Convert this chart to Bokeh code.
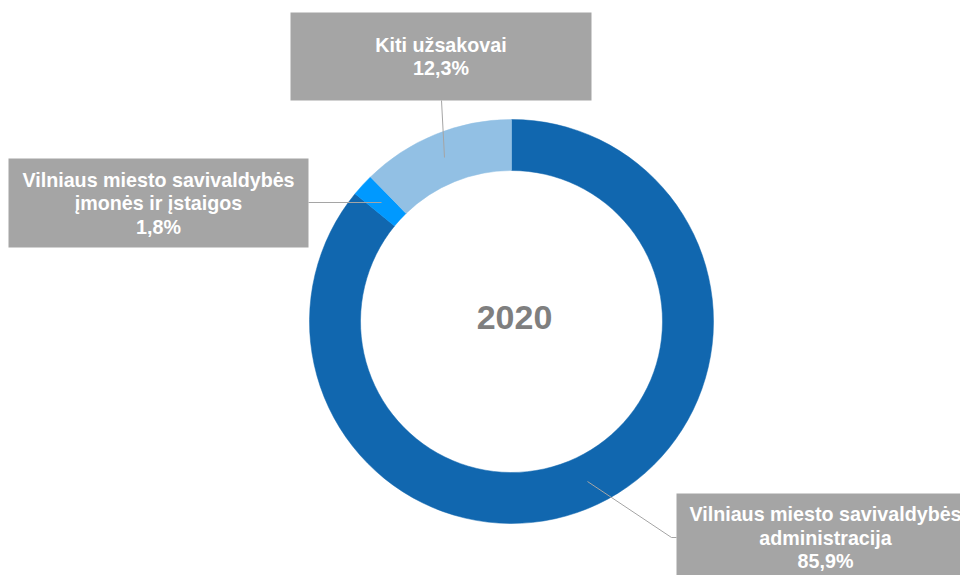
import math
from bokeh.plotting import figure
from bokeh.models import Range1d, ColumnDataSource
from bokeh.core.properties import value
from bokeh.embed import file_html
from bokeh.resources import INLINE

# ---- data ----
categories = ["Vilniaus miesto savivaldybės\nadministracija",
              "Vilniaus miesto savivaldybės\nįmonės ir įstaigos",
              "Kiti užsakovai"]
shares = [85.9, 1.8, 12.3]
colors = ["#1167AF", "#0099FF", "#92C0E4"]
center_label = "2020"

# ---- layout (page pixel coordinates; data y = -page y) ----
W, H = 960, 575
CX, CY = 511, 321
R_OUT, R_IN = 202, 151
# label boxes: left, right, top, bottom (page px), leader line points
boxes = [
    dict(l=676, r=974, t=493, b=581, leader=[(587, 481), (671, 537), (676, 537)]),
    dict(l=8, r=308, t=158, b=247, leader=[(381, 202), (308, 202)]),
    dict(l=290, r=591, t=12, b=100, leader=[(444, 157), (441, 100)]),
]
LINE_H = 23.5
FONT = value("Liberation Sans")

p = figure(width=W, height=H, output_backend="svg", toolbar_location=None,
           x_range=Range1d(0, W), y_range=Range1d(-H, 0),
           min_border=0, outline_line_color=None)
p.axis.visible = False
p.grid.visible = False
p.background_fill_color = "white"
p.border_fill_color = "white"

# donut
total = sum(shares)
starts, ends = [], []
cum = 0.0
for s in shares:
    starts.append(math.pi / 2 - cum / total * 2 * math.pi)
    cum += s
    ends.append(math.pi / 2 - cum / total * 2 * math.pi)
src = ColumnDataSource(dict(start=starts, end=ends, color=colors,
                            x=[CX] * len(shares), y=[-CY] * len(shares)))
p.annular_wedge(x="x", y="y", inner_radius=R_IN, outer_radius=R_OUT,
                inner_radius_units="screen", outer_radius_units="screen",
                start_angle="start", end_angle="end", direction="clock",
                fill_color="color", line_color="color", line_width=0.5, source=src)

# center label
p.text(x=[514], y=[-317], text=[center_label], text_font=FONT,
       text_font_style="bold", text_font_size="34px", text_color="#7F7F7F",
       text_align="center", text_baseline="middle")

# label boxes, leader lines, texts
for cat, sh, bx in zip(categories, shares, boxes):
    xs = [pt[0] for pt in bx["leader"]]
    ys = [-pt[1] for pt in bx["leader"]]
    p.line(xs, ys, line_color="#A5A5A5", line_width=1)
    p.quad(left=[bx["l"]], right=[bx["r"]], top=[-bx["t"]], bottom=[-bx["b"]],
           fill_color="#A5A5A5", line_color=None)
    lines = cat.split("\n") + [f"{sh:.1f}".replace(".", ",") + "%"]
    n = len(lines)
    cx = (bx["l"] + bx["r"]) / 2
    cy = (bx["t"] + bx["b"]) / 2
    mids = [cy - (n - 1) * LINE_H / 2 + i * LINE_H for i in range(n)]
    p.text(x=[cx] * n, y=[-m for m in mids], text=lines, text_font=FONT,
           text_font_style="bold", text_font_size="19.7px", text_color="white",
           text_align="center", text_baseline="middle")

open("out.html", "w").write(file_html(p, INLINE))
